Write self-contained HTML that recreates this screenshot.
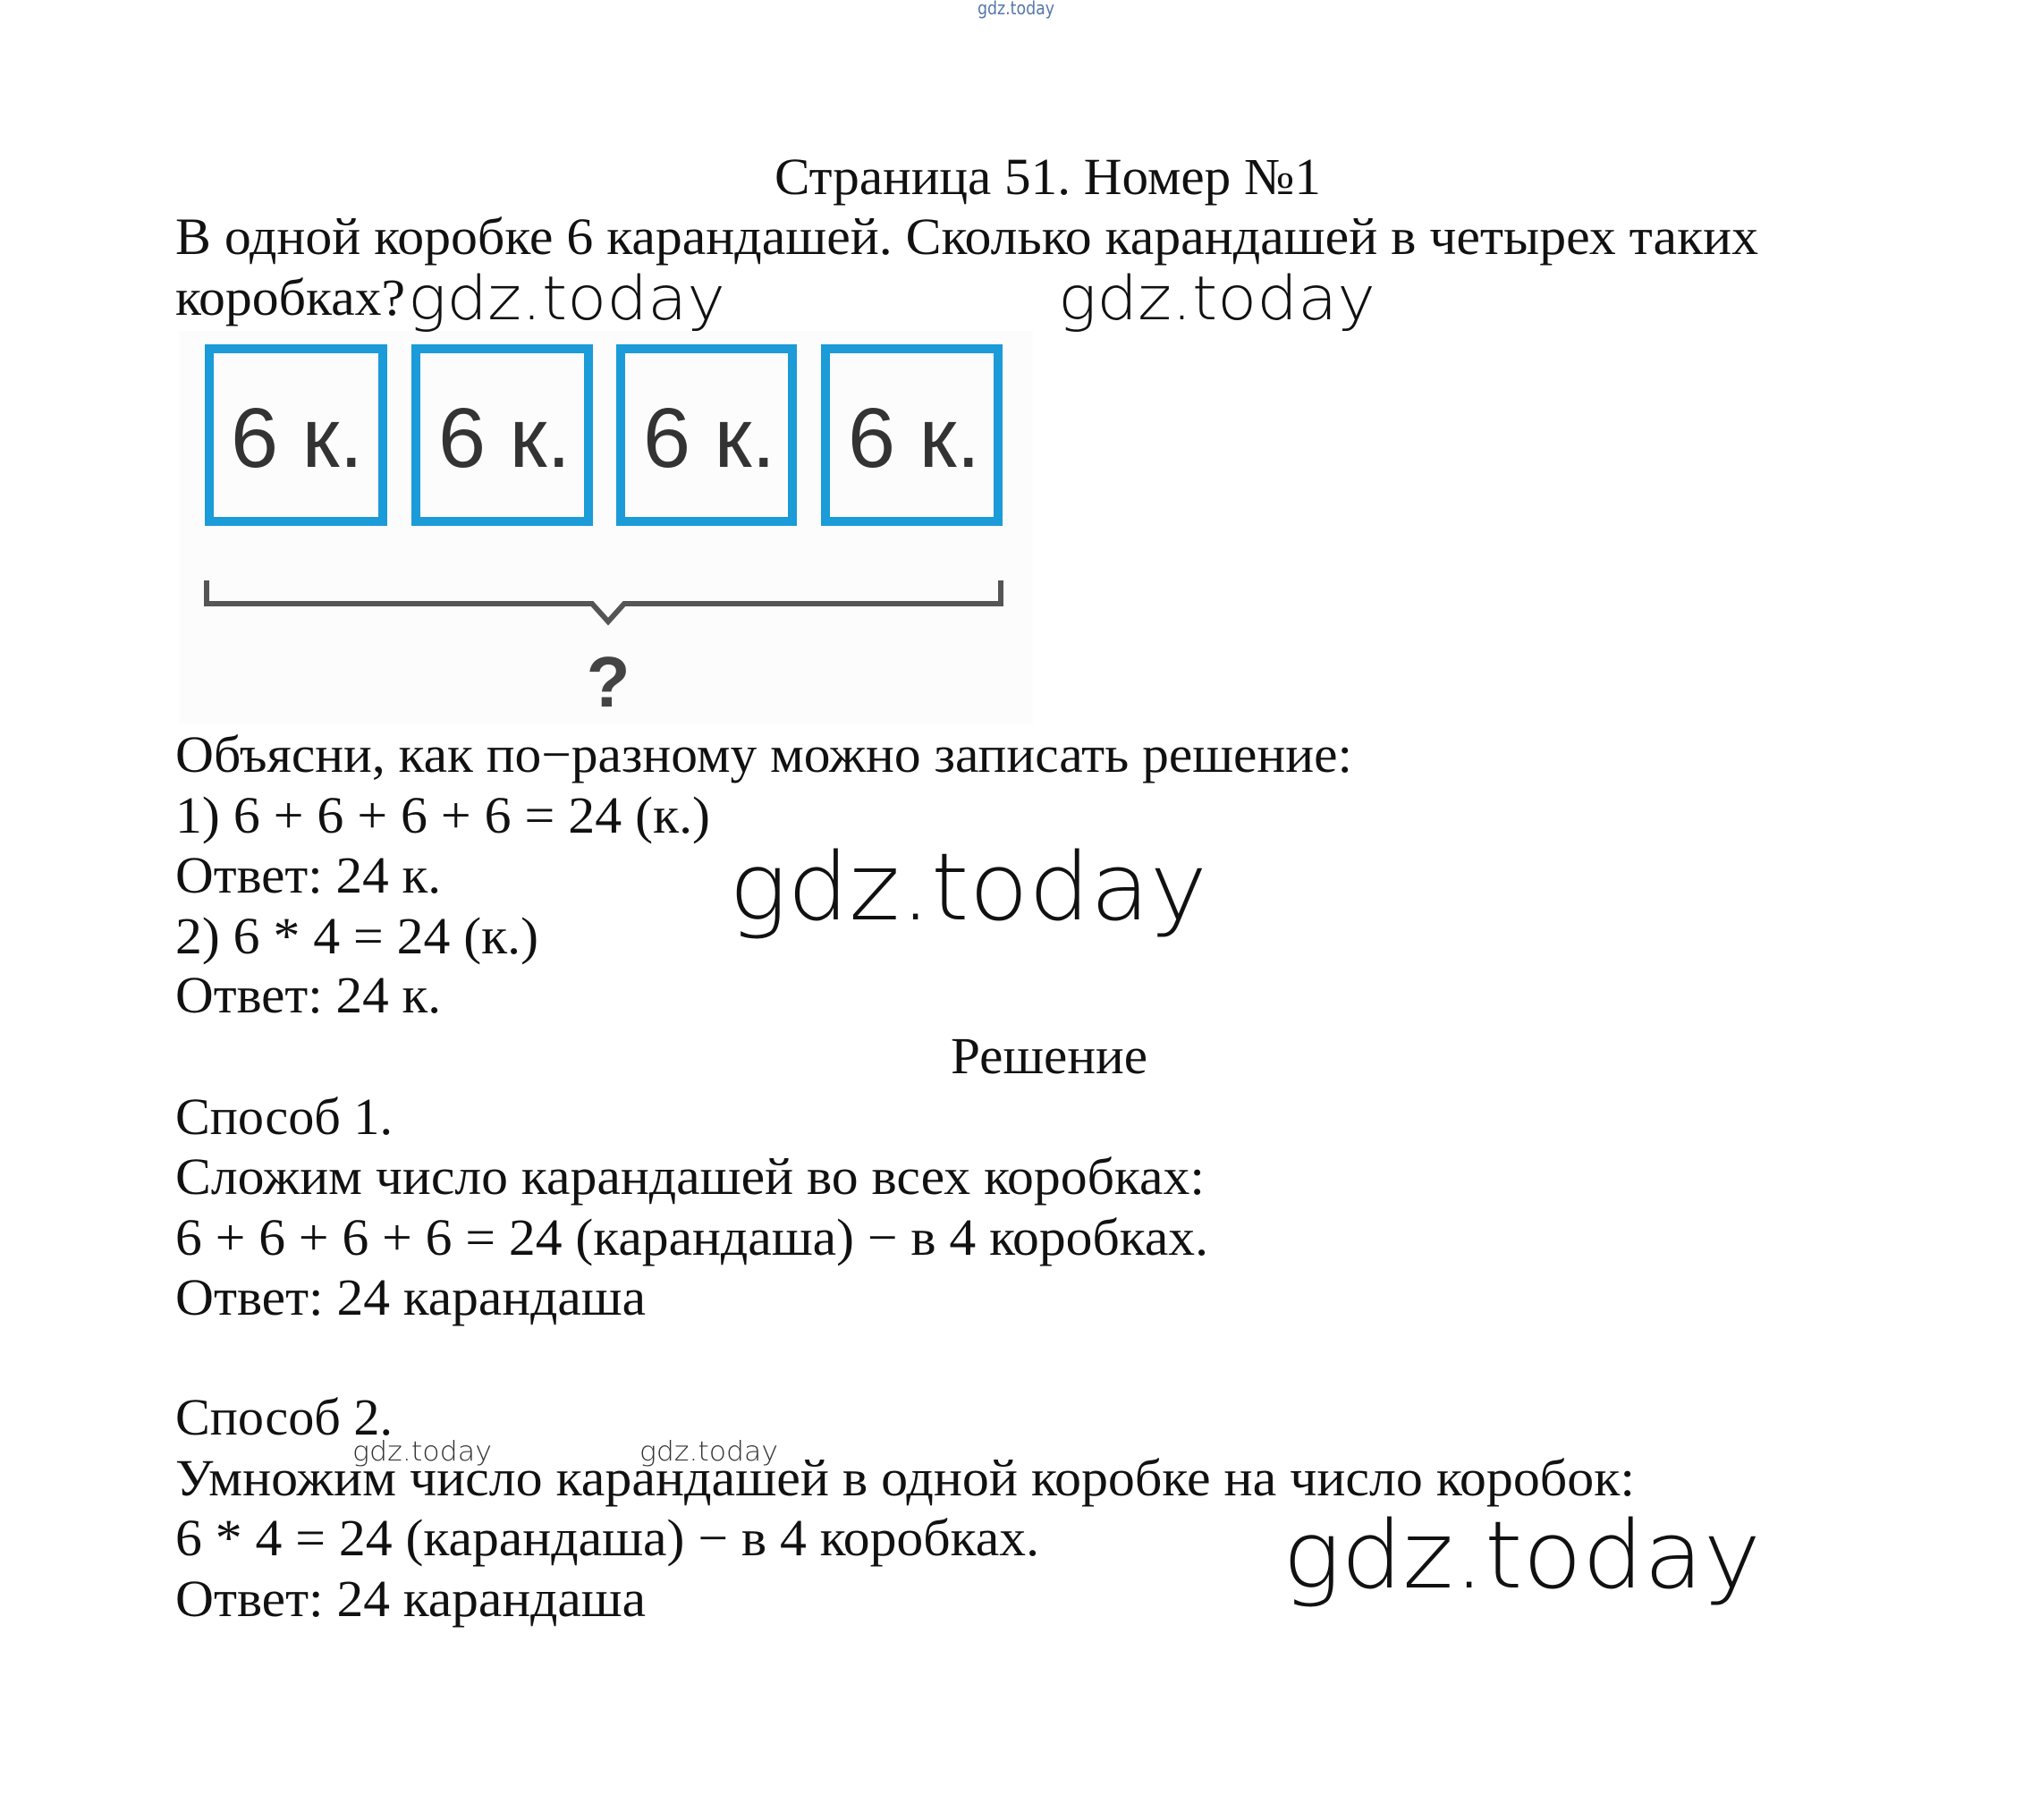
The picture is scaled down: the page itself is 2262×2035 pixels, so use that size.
<!DOCTYPE html>
<html><head><meta charset="utf-8"><style>html,body{margin:0;padding:0;background:#fff}svg{display:block}</style></head>
<body>
<svg width="2262" height="2035" viewBox="0 0 2262 2035" xmlns="http://www.w3.org/2000/svg">
<rect width="2262" height="2035" fill="#fff"/>
<rect x="200" y="370" width="955" height="440" fill="#fcfcfc"/>
<g transform="translate(0,-3)">
<g font-family="'Liberation Serif', serif" font-size="58" fill="#111">
<text x="866" y="220" textLength="611" lengthAdjust="spacingAndGlyphs">Страница 51. Номер №1</text>
<text x="196" y="287" textLength="1770" lengthAdjust="spacingAndGlyphs">В одной коробке 6 карандашей. Сколько карандашей в четырех таких</text>
<text x="196" y="355" textLength="257" lengthAdjust="spacingAndGlyphs">коробках?</text>
<text x="196" y="866" textLength="1316" lengthAdjust="spacingAndGlyphs">Объясни, как по−разному можно записать решение:</text>
<text x="196" y="934" textLength="598" lengthAdjust="spacingAndGlyphs">1) 6 + 6 + 6 + 6 = 24 (к.)</text>
<text x="196" y="1001" textLength="297" lengthAdjust="spacingAndGlyphs">Ответ: 24 к.</text>
<text x="196" y="1069" textLength="406" lengthAdjust="spacingAndGlyphs">2) 6 * 4 = 24 (к.)</text>
<text x="196" y="1135" textLength="297" lengthAdjust="spacingAndGlyphs">Ответ: 24 к.</text>
<text x="1063" y="1203" textLength="220" lengthAdjust="spacingAndGlyphs">Решение</text>
<text x="196" y="1271" textLength="243" lengthAdjust="spacingAndGlyphs">Способ 1.</text>
<text x="196" y="1338" textLength="1151" lengthAdjust="spacingAndGlyphs">Сложим число карандашей во всех коробках:</text>
<text x="196" y="1406" textLength="1155" lengthAdjust="spacingAndGlyphs">6 + 6 + 6 + 6 = 24 (карандаша) − в 4 коробках.</text>
<text x="196" y="1473" textLength="526" lengthAdjust="spacingAndGlyphs">Ответ: 24 карандаша</text>
<text x="196" y="1607" textLength="243" lengthAdjust="spacingAndGlyphs">Способ 2.</text>
<text x="196" y="1675" textLength="1632" lengthAdjust="spacingAndGlyphs">Умножим число карандашей в одной коробке на число коробок:</text>
<text x="196" y="1742" textLength="966" lengthAdjust="spacingAndGlyphs">6 * 4 = 24 (карандаша) − в 4 коробках.</text>
<text x="196" y="1810" textLength="526" lengthAdjust="spacingAndGlyphs">Ответ: 24 карандаша</text>
</g>
<g font-family="'DejaVu Sans', sans-serif" fill="#111" font-weight="200">
<text x="456" y="360" font-size="68" textLength="355" lengthAdjust="spacingAndGlyphs">gdz.today</text>
<text x="1183" y="360" font-size="68" textLength="355" lengthAdjust="spacingAndGlyphs">gdz.today</text>
<text x="815" y="1031" font-size="104" textLength="535" lengthAdjust="spacingAndGlyphs">gdz.today</text>
<text x="1434" y="1778" font-size="104" textLength="535" lengthAdjust="spacingAndGlyphs">gdz.today</text>
<text x="394" y="1636" font-size="30" fill="#333" textLength="156" lengthAdjust="spacingAndGlyphs">gdz.today</text>
<text x="715" y="1636" font-size="30" fill="#333" textLength="155" lengthAdjust="spacingAndGlyphs">gdz.today</text>
</g>
</g>
<text x="1093" y="16" font-family="'DejaVu Sans', sans-serif" font-size="20" fill="#5577aa" textLength="86" lengthAdjust="spacingAndGlyphs">gdz.today</text>
<g fill="none" stroke="#1b9bd7" stroke-width="10">
<rect x="234" y="390" width="194" height="193"/>
<rect x="465" y="390" width="193" height="193"/>
<rect x="694" y="390" width="192" height="193"/>
<rect x="923" y="390" width="193" height="193"/>
</g>
<g font-family="'Liberation Sans', sans-serif" font-size="95" fill="#333">
<text x="258" y="522" textLength="148" lengthAdjust="spacingAndGlyphs">6 к.</text>
<text x="490" y="522" textLength="148" lengthAdjust="spacingAndGlyphs">6 к.</text>
<text x="719" y="522" textLength="148" lengthAdjust="spacingAndGlyphs">6 к.</text>
<text x="948" y="522" textLength="148" lengthAdjust="spacingAndGlyphs">6 к.</text>
</g>
<path d="M231 649 V675 H662 L680 695 L698 675 H1119 V649" fill="none" stroke="#555" stroke-width="6"/>
<text x="680" y="790" font-family="'Liberation Sans', sans-serif" font-size="80" font-weight="bold" fill="#444" text-anchor="middle">?</text>
</svg>
</body></html>
